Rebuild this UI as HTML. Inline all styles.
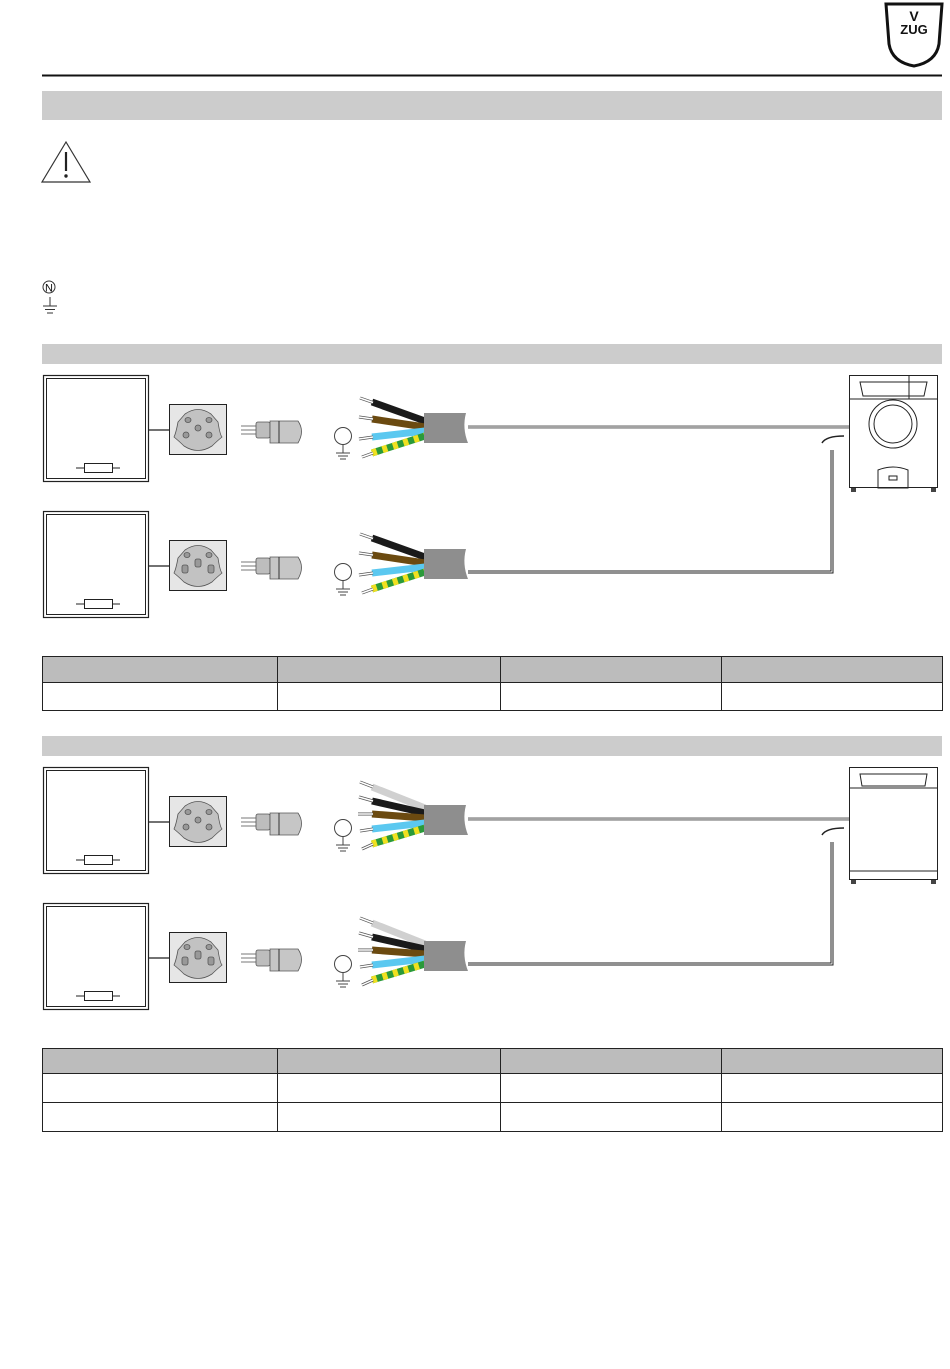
<!DOCTYPE html>
<html><head><meta charset="utf-8"><style>
html,body{margin:0;padding:0;background:#fff;}
svg{display:block;}
</style></head><body>
<svg width="950" height="1369" viewBox="0 0 950 1369" xmlns="http://www.w3.org/2000/svg" font-family="Liberation Sans, sans-serif">
<defs>
  <g id="panel">
    <rect x="43.5" y="375.5" width="105" height="106" fill="#fff" stroke="#222" stroke-width="1.2"/>
    <rect x="46.5" y="378.5" width="99" height="100" fill="none" stroke="#222" stroke-width="1"/>
    <line x1="76" y1="468" x2="120" y2="468" stroke="#222"/>
    <rect x="84.5" y="463.5" width="28" height="9" fill="#fff" stroke="#222"/>
    <line x1="149" y1="430" x2="169" y2="430" stroke="#444" stroke-width="1.5"/>
  </g>
  <g id="socketA">
    <rect x="169.5" y="404.5" width="57" height="50" fill="#e6e6e6" stroke="#222"/>
    <path d="M185,414 Q198,405 211,414 L218,422 Q220,435 222,437 Q216,442 212,446 Q198,455 184,446 Q180,442 174,437 Q176,433 178,422 Z" fill="#c2c2c2" stroke="#555" stroke-width="0.8"/>
  </g>
  <g id="plug">
    <line x1="241" y1="426" x2="256" y2="426" stroke="#777"/>
    <line x1="241" y1="430" x2="256" y2="430" stroke="#777"/>
    <line x1="241" y1="434" x2="256" y2="434" stroke="#777"/>
    <rect x="256" y="422" width="14" height="16" rx="2" fill="#bdbdbd" stroke="#555" stroke-width="0.8"/>
    <path d="M270,421 L298,421 Q305,431 298,443 L270,443 Z" fill="#c6c6c6" stroke="#555" stroke-width="0.8"/>
    <line x1="279" y1="421" x2="279" y2="443" stroke="#333"/>
  </g>
  <g id="earth">
    <circle cx="343" cy="436" r="8.5" fill="#fff" stroke="#444"/>
    <line x1="343" y1="444.5" x2="343" y2="453" stroke="#444"/>
    <line x1="336" y1="453" x2="350" y2="453" stroke="#444"/>
    <line x1="338" y1="456" x2="348" y2="456" stroke="#444"/>
    <line x1="340" y1="459" x2="346" y2="459" stroke="#444"/>
  </g>
  <g id="cable4">
    <path d="M372,402 L425,421" stroke="#1a1a1a" stroke-width="7"/>
    <path d="M372,419 L425,427" stroke="#6b4a10" stroke-width="7"/>
    <path d="M372,437 L425,431" stroke="#5bc8f0" stroke-width="7"/>
    <path d="M372,453 L425,436" stroke="#2a9a3a" stroke-width="7"/>
    <path d="M372,453 L425,436" stroke="#f0e020" stroke-width="7" stroke-dasharray="5 6"/>
    <g stroke="#555" stroke-width="3">
      <line x1="360" y1="398" x2="373" y2="402.5"/><line x1="359" y1="417" x2="373" y2="419"/>
      <line x1="359" y1="439" x2="373" y2="437"/><line x1="362" y1="457" x2="373" y2="453"/>
    </g>
    <g stroke="#fff" stroke-width="1.5">
      <line x1="360" y1="398" x2="373" y2="402.5"/><line x1="359" y1="417" x2="373" y2="419"/>
      <line x1="359" y1="439" x2="373" y2="437"/><line x1="362" y1="457" x2="373" y2="453"/>
    </g>
    <path d="M424,413 L466,413 Q462,428 468,443 L424,443 Z" fill="#8e8e8e"/>
  </g>
  <g id="cable5">
    <path d="M372,395 L425,416" stroke="#d0d0d0" stroke-width="7"/>
    <path d="M372,409 L425,421" stroke="#1a1a1a" stroke-width="7"/>
    <path d="M372,422 L425,426" stroke="#6b4a10" stroke-width="7"/>
    <path d="M372,437 L425,431" stroke="#5bc8f0" stroke-width="7"/>
    <path d="M372,452 L425,436" stroke="#2a9a3a" stroke-width="7"/>
    <path d="M372,452 L425,436" stroke="#f0e020" stroke-width="7" stroke-dasharray="5 6"/>
    <g stroke="#555" stroke-width="3">
      <line x1="360" y1="390" x2="373" y2="395"/><line x1="359" y1="405" x2="373" y2="409"/>
      <line x1="358" y1="422" x2="373" y2="422"/><line x1="360" y1="439" x2="373" y2="437"/>
      <line x1="362" y1="457" x2="373" y2="452"/>
    </g>
    <g stroke="#fff" stroke-width="1.5">
      <line x1="360" y1="390" x2="373" y2="395"/><line x1="359" y1="405" x2="373" y2="409"/>
      <line x1="358" y1="422" x2="373" y2="422"/><line x1="360" y1="439" x2="373" y2="437"/>
      <line x1="362" y1="457" x2="373" y2="452"/>
    </g>
    <path d="M424,413 L466,413 Q462,428 468,443 L424,443 Z" fill="#8e8e8e"/>
  </g>
  <g id="socketHoles1" fill="#999" stroke="#555" stroke-width="0.8">
    <ellipse cx="188" cy="420" rx="3" ry="2.5"/><ellipse cx="209" cy="420" rx="3" ry="2.5"/>
    <circle cx="198" cy="428" r="3"/><circle cx="186" cy="435" r="3"/><circle cx="209" cy="435" r="3"/>
  </g>
  <g id="socketHoles2" fill="#999" stroke="#555" stroke-width="0.8">
    <ellipse cx="187" cy="419" rx="3" ry="2.5"/><ellipse cx="209" cy="419" rx="3" ry="2.5"/>
    <rect x="195" y="423" width="6" height="8" rx="2"/><rect x="182" y="429" width="6" height="8" rx="2"/><rect x="208" y="429" width="6" height="8" rx="2"/>
  </g>
  <g id="row1"><use href="#panel"/><use href="#socketA"/><use href="#socketHoles1"/><use href="#plug"/><use href="#earth"/></g>
  <g id="row2"><use href="#panel"/><use href="#socketA"/><use href="#socketHoles2"/><use href="#plug"/><use href="#earth"/></g>
  <g id="feed">
    <line x1="468" y1="427" x2="850" y2="427" stroke="#666" stroke-width="3"/>
    <line x1="468" y1="427" x2="850" y2="427" stroke="#ddd" stroke-width="1"/>
    <path d="M822,443 Q826,436 844,436" fill="none" stroke="#222" stroke-width="1.5"/>
    <path d="M832,450 L832,572 L468,572" fill="none" stroke="#222" stroke-width="3"/>
    <path d="M832,450 L832,572 L468,572" fill="none" stroke="#fff" stroke-width="1"/>
  </g>
</defs>

<line x1="42" y1="75.5" x2="942" y2="75.5" stroke="#111" stroke-width="2"/>
<path d="M886,4 L942,4 L939,44 Q936,62 914,66 Q892,62 889,44 Z" fill="#fff" stroke="#111" stroke-width="3"/>
<text x="914" y="21" font-size="14" font-weight="bold" text-anchor="middle" fill="#111">V</text>
<text x="914" y="34" font-size="13" font-weight="bold" text-anchor="middle" fill="#111">ZUG</text>

<rect x="42" y="91" width="900" height="29" fill="#cccccc"/>
<path d="M66,142 L90,182 L42,182 Z" fill="#fff" stroke="#333" stroke-width="1.2"/>
<line x1="66" y1="152" x2="66" y2="171" stroke="#222" stroke-width="2.2"/>
<circle cx="66" cy="176" r="1.7" fill="#222"/>
<circle cx="49" cy="287" r="6" fill="none" stroke="#333"/>
<text x="49" y="291.5" font-size="11" text-anchor="middle" fill="#111">N</text>
<line x1="50" y1="297" x2="50" y2="306" stroke="#333"/>
<line x1="43" y1="306" x2="57" y2="306" stroke="#333"/>
<line x1="45" y1="309.5" x2="55" y2="309.5" stroke="#333"/>
<line x1="47" y1="313" x2="53" y2="313" stroke="#333"/>

<rect x="42" y="344" width="900" height="20" fill="#cccccc"/>
<use href="#feed"/>
<use href="#row1"/>
<use href="#cable4"/>
<g transform="translate(0,136)"><use href="#row2"/><use href="#cable4"/></g>
<g fill="none" stroke="#222" stroke-width="1">
  <rect x="849.5" y="375.5" width="88" height="112"/>
  <line x1="849" y1="399" x2="938" y2="399"/>
  <path d="M860,382 L927,382 L924,396 L863,396 Z"/>
  <line x1="909" y1="376" x2="909" y2="399"/>
  <circle cx="893" cy="424" r="24"/><circle cx="893" cy="424" r="19"/>
  <path d="M878,470 Q893,464 908,470 L908,488 L878,488 Z"/>
  <rect x="889" y="476" width="8" height="4"/>
</g>
<rect x="851" y="488" width="5" height="4" fill="#444"/><rect x="931" y="488" width="5" height="4" fill="#444"/>

<rect x="42.5" y="656.5" width="900" height="26" fill="#bcbcbc" stroke="#222"/>
<rect x="42.5" y="682.5" width="900" height="28" fill="#fff" stroke="#222"/>
<g stroke="#222"><line x1="277.5" y1="656" x2="277.5" y2="711"/><line x1="500.5" y1="656" x2="500.5" y2="711"/><line x1="721.5" y1="656" x2="721.5" y2="711"/></g>

<rect x="42" y="736" width="900" height="20" fill="#cccccc"/>
<g transform="translate(0,392)">
  <use href="#feed"/>
  <use href="#row1"/>
  <use href="#cable5"/>
  <g transform="translate(0,136)"><use href="#row2"/><use href="#cable5"/></g>
</g>
<g fill="none" stroke="#222" stroke-width="1">
  <rect x="849.5" y="767.5" width="88" height="112"/>
  <line x1="849" y1="788" x2="938" y2="788"/>
  <path d="M860,774 L927,774 L925,786 L862,786 Z"/>
  <line x1="849" y1="871" x2="938" y2="871"/>
</g>
<rect x="851" y="880" width="5" height="4" fill="#444"/><rect x="931" y="880" width="5" height="4" fill="#444"/>

<rect x="42.5" y="1048.5" width="900" height="25" fill="#bcbcbc" stroke="#222"/>
<rect x="42.5" y="1073.5" width="900" height="29" fill="#fff" stroke="#222"/>
<rect x="42.5" y="1102.5" width="900" height="29" fill="#fff" stroke="#222"/>
<g stroke="#222"><line x1="277.5" y1="1048" x2="277.5" y2="1132"/><line x1="500.5" y1="1048" x2="500.5" y2="1132"/><line x1="721.5" y1="1048" x2="721.5" y2="1132"/></g>
</svg>
</body></html>
